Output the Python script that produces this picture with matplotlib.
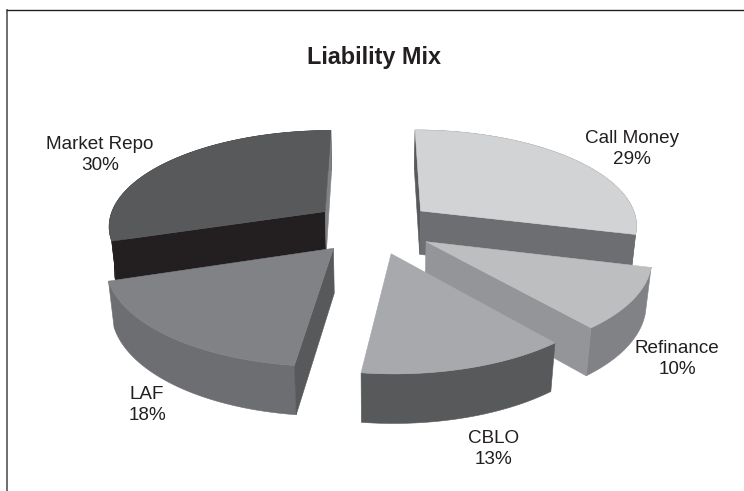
import numpy as np
import matplotlib
matplotlib.use("Agg")
import matplotlib.pyplot as plt

plt.rcParams['font.family'] = ['Liberation Sans', 'DejaVu Sans']

# clockwise from 12 o'clock, as in the reference
categories = ['Call Money', 'Refinance', 'CBLO', 'LAF', 'Market Repo']
shares = [29, 10, 13, 18, 30]

title = 'Liability Mix'

top_colors = ['#d1d3d4', '#bcbec0', '#a7a9ac', '#808285', '#58595b']
rim_colors = ['#6d6e71', '#808285', '#58595b', '#6d6e71', '#231f20']
start_cut_colors = ['#58595b', '#939598', '#58595b', '#58595b', '#231f20']
end_cut_colors = ['#6d6e71', '#939598', '#58595b', '#58595b', '#808285']

label_pos = [(632, 149), (677, 359), (494, 449), (147, 405), (100, 155)]

# far slices first so the near ones cover them
draw_order = [4, 0, 1, 3, 2]

# pie geometry, in pixels of the figure
cx, cy = 373.5, 227
radius = 218
explode = 61
thick = 45
squash = 0.44
persp = 0.00062
persp_z = 0.02


def project(x, y, z):
    w = 1 + persp * y + persp_z * z / thick
    return cx + x / w, cy + (z - squash * y) / w


def signed_area(u, v):
    return np.sum(u * np.roll(v, -1) - np.roll(u, -1) * v) / 2


def draw_slice(ax, start, stop, top_c, rim_c, cut0_c, cut1_c):
    mid = (start + stop) / 2
    ox = explode * np.sin(mid)
    oy = explode * np.cos(mid)
    t = np.linspace(start, stop, 80)
    rx = ox + radius * np.sin(t)
    ry = oy + radius * np.cos(t)

    # rim first, then the cut faces that look at the viewer, then the top
    u, v = project(np.r_[rx, rx[::-1]], np.r_[ry, ry[::-1]],
                   np.r_[np.zeros(80), np.full(80, thick)])
    ax.fill(u, v, color=rim_c, lw=0.4)
    for ang, c, side in [(start, cut0_c, -1), (stop, cut1_c, 1)]:
        ex = ox + radius * np.sin(ang)
        ey = oy + radius * np.cos(ang)
        u, v = project(np.array([ox, ex, ex, ox]), np.array([oy, ey, ey, oy]),
                       np.array([0, 0, thick, thick]))
        if signed_area(u, v) * side > 0:
            ax.fill(u, v, color=c, lw=0.4)
    u, v = project(np.r_[ox, rx], np.r_[oy, ry], np.zeros(81))
    ax.fill(u, v, color=top_c, lw=0.4)


fig = plt.figure(figsize=(7.44, 4.91), dpi=100)
ax = fig.add_axes([0, 0, 1, 1])
ax.set_xlim(0, 744)
ax.set_ylim(491, 0)
ax.axis('off')

edges = np.cumsum([0] + shares) / sum(shares) * 2 * np.pi
for i in draw_order:
    draw_slice(ax, edges[i], edges[i + 1], top_colors[i], rim_colors[i],
               start_cut_colors[i], end_cut_colors[i])

for name, share, pos in zip(categories, shares, label_pos):
    ax.text(pos[0], pos[1], f'{name}\n{share}%', ha='center', va='center',
            fontsize=13.6, color='#231f20', linespacing=1.25)

ax.text(374, 57, title, ha='center', va='center', fontsize=16.8,
        fontweight='bold', color='#231f20')

# frame of the scanned page, open on the right and at the bottom
ax.plot([7, 7], [10, 491], color='#555555', lw=1.2)
ax.plot([7, 744], [10, 10], color='#231f20', lw=1.0)

fig.savefig('out.png', dpi=100)
